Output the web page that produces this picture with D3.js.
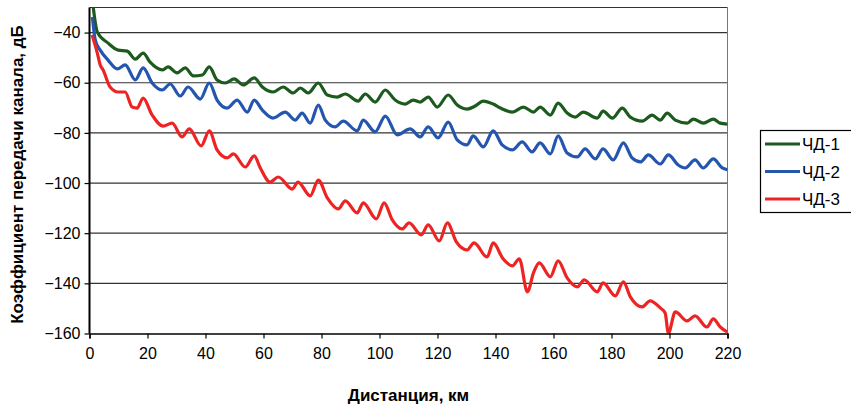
<!DOCTYPE html>
<html lang="ru">
<head>
<meta charset="UTF-8">
<title>Коэффициент передачи канала</title>
<script src="https://cdnjs.cloudflare.com/ajax/libs/d3/7.8.5/d3.min.js"></script>
<style>
  body { margin: 0; background: #fff; }
  svg { display: block; font-family: "Liberation Sans", Arial, sans-serif; }
</style>
</head>
<body>
<svg id="chart" width="851" height="409"></svg>
<script>
// Data: [distance km, transfer coefficient dB]
const seriesNames = ["ЧД-1", "ЧД-2", "ЧД-3"];
const seriesColors = ["#1d5a1d", "#2456b0", "#ee2424"];

const chd1 = [
  [1.2, -29], [2.7, -39.8], [6.4, -44.2], [9.9, -47.0], [13.0, -47.4], [15.8, -50.6], [18.5, -48.2],
  [20.9, -51.8], [25.1, -54.9], [27.1, -53.7], [30.2, -56.1], [33.0, -54.1], [35.8, -57.3],
  [38.9, -56.9], [41.3, -53.7], [44.0, -58.9], [46.8, -60.1], [49.9, -58.5], [53.0, -60.9],
  [56.8, -58.1], [59.6, -61.7], [63.3, -63.7], [66.8, -61.7], [70.2, -64.1], [72.7, -62.1],
  [75.4, -64.1], [78.9, -60.1], [82.0, -64.9], [85.4, -65.7], [88.2, -64.5], [92.6, -67.3],
  [95.1, -64.5], [98.5, -67.7], [102.0, -62.9], [105.4, -66.9], [108.9, -68.5], [111.6, -66.9],
  [114.0, -67.7], [116.8, -65.7], [119.9, -69.7], [123.7, -64.9], [126.8, -68.9], [130.2, -70.5],
  [133.0, -69.3], [135.8, -67.3], [139.2, -68.5], [141.7, -70.1], [145.8, -71.7], [149.6, -69.7],
  [153.1, -71.7], [155.4, -69.7], [158.9, -72.9], [161.6, -68.1], [164.7, -72.1], [167.5, -73.7],
  [170.2, -71.7], [175.1, -74.1], [177.1, -71.3], [180.3, -74.1], [183.7, -70.1], [186.5, -73.7],
  [190.6, -75.3], [194.0, -72.9], [196.8, -74.9], [199.2, -72.1], [202.0, -74.9], [206.1, -76.1],
  [208.2, -74.5], [211.7, -76.1], [215.1, -74.5], [217.5, -76.1], [219.9, -76.5]
];

const chd2 = [
  [1.0, -33.8], [2.0, -43.0], [3.7, -47.0], [6.4, -51.0], [9.6, -54.5], [12.3, -52.9], [15.8, -58.9],
  [18.5, -54.1], [21.6, -60.1], [25.1, -62.9], [27.8, -60.5], [31.3, -65.3], [34.0, -61.7],
  [38.2, -66.5], [41.3, -60.1], [44.0, -66.9], [47.5, -70.1], [50.9, -66.9], [54.4, -71.7],
  [56.8, -66.9], [59.6, -70.9], [63.3, -74.1], [67.5, -71.7], [70.9, -74.9], [73.3, -72.1],
  [76.1, -76.1], [78.9, -68.9], [81.3, -74.9], [84.7, -77.6], [87.5, -75.3], [92.3, -79.2],
  [94.4, -74.9], [98.5, -79.6], [102.0, -73.3], [106.1, -80.8], [110.6, -78.4], [114.0, -81.6],
  [116.8, -77.6], [120.2, -82.0], [123.7, -75.7], [126.8, -82.8], [130.2, -84.8], [132.3, -81.2],
  [135.8, -85.6], [139.2, -79.2], [142.3, -84.8], [145.8, -86.8], [149.2, -83.6], [152.6, -87.6],
  [155.4, -84.0], [158.9, -88.4], [161.6, -81.2], [164.7, -88.0], [168.2, -89.6], [170.9, -86.4],
  [174.4, -90.4], [177.1, -86.4], [180.6, -90.8], [184.1, -84.0], [187.1, -90.0], [190.0, -91.6],
  [192.7, -88.8], [196.8, -92.4], [199.6, -88.8], [203.0, -92.8], [205.4, -94.0], [208.8, -90.8],
  [211.6, -94.0], [215.1, -90.4], [218.2, -94.0], [219.9, -94.7]
];

const chd3 = [
  [0.9, -41.0], [2.7, -48.2], [3.7, -52.9], [4.7, -54.9], [7.1, -61.7], [9.9, -63.7], [12.3, -63.7],
  [14.7, -69.7], [16.4, -70.1], [18.5, -66.1], [21.6, -72.9], [25.4, -77.3], [28.5, -76.1],
  [31.9, -81.6], [34.4, -78.4], [38.5, -85.2], [41.3, -79.2], [44.0, -86.8], [47.5, -90.0],
  [49.6, -88.4], [53.7, -93.6], [56.8, -89.2], [58.9, -94.0], [62.3, -99.6], [65.1, -97.6],
  [69.9, -102.4], [71.9, -99.6], [76.1, -105.1], [78.9, -98.8], [82.0, -105.9], [85.8, -110.3],
  [88.2, -107.1], [92.3, -111.9], [94.4, -107.9], [98.9, -114.3], [101.6, -107.9], [104.4, -114.7],
  [107.8, -118.3], [110.2, -115.9], [114.4, -120.7], [116.8, -116.7], [120.6, -123.1],
  [123.4, -115.9], [126.5, -123.5], [130.2, -126.7], [132.6, -123.9], [137.1, -129.5],
  [139.2, -123.9], [142.6, -130.2], [145.8, -133.0], [148.2, -130.2], [151.0, -143.4],
  [153.1, -135.8], [155.1, -131.8], [158.9, -137.4], [161.6, -131.0], [164.7, -137.8],
  [168.2, -141.4], [170.6, -138.6], [175.1, -143.4], [177.1, -139.8], [181.3, -145.0],
  [184.1, -139.4], [186.5, -145.4], [190.6, -149.4], [193.3, -147.0], [196.8, -149.8],
  [198.5, -151.8], [199.6, -159.8], [202.0, -151.4], [206.1, -155.0], [208.8, -153.0],
  [212.9, -157.4], [215.1, -154.2], [217.5, -157.4], [219.9, -159.4]
];

const xTicks = [0, 20, 40, 60, 80, 100, 120, 140, 160, 180, 200, 220];
const yTicks = [-40, -60, -80, -100, -120, -140, -160];
const yGrid = [-30, -40, -60, -80, -100, -120, -140];

const allSeries = [chd1, chd2, chd3];

// Layout
const svg = d3.select("#chart");
const plot = { left: 89.5, right: 727.5, top: 7.5, bottom: 333.5 };

const x = d3.scaleLinear().domain([0, 220]).range([plot.left, plot.right]);
const y = d3.scaleLinear().domain([-160, -30]).range([plot.bottom, plot.top]);

// Grid lines
svg.append("g")
  .selectAll("line")
  .data(yGrid)
  .enter()
  .append("line")
  .attr("x1", plot.left)
  .attr("x2", plot.right)
  .attr("y1", d => y(d))
  .attr("y2", d => y(d))
  .attr("stroke", "#333")
  .attr("stroke-width", 1.2);

// right border
svg.append("line")
  .attr("x1", plot.right).attr("x2", plot.right)
  .attr("y1", plot.top).attr("y2", plot.bottom)
  .attr("stroke", "#777").attr("stroke-width", 1);

// Clip for the curves
svg.append("clipPath").attr("id", "plotClip")
  .append("rect")
  .attr("x", plot.left).attr("y", plot.top)
  .attr("width", plot.right - plot.left + 2)
  .attr("height", plot.bottom - plot.top);

const line = d3.line()
  .x(d => x(d[0]))
  .y(d => y(d[1]))
  .curve(d3.curveMonotoneX);

svg.append("g")
  .attr("clip-path", "url(#plotClip)")
  .selectAll("path")
  .data(allSeries)
  .enter()
  .append("path")
  .attr("d", line)
  .attr("fill", "none")
  .attr("stroke", (d, i) => seriesColors[i])
  .attr("stroke-width", 3.2)
  .attr("stroke-linejoin", "round");

// Axes
const xAxis = d3.axisBottom(x).tickValues(xTicks).tickSize(5).tickPadding(9);
const gx = svg.append("g")
  .attr("transform", `translate(0,${plot.bottom})`)
  .call(xAxis);
gx.select(".domain").attr("stroke", "#000").attr("stroke-width", 1.5);
gx.selectAll(".tick line").attr("stroke", "#000").attr("stroke-width", 1.2);
gx.selectAll(".tick text").attr("font-size", 16).attr("fill", "#000")
  .attr("font-family", "Liberation Sans, Arial, sans-serif");

const yAxis = d3.axisLeft(y).tickValues(yTicks).tickSize(5).tickPadding(4);
const gy = svg.append("g")
  .attr("transform", `translate(${plot.left},0)`)
  .call(yAxis);
gy.select(".domain").attr("d", `M0,${plot.top}V${plot.bottom}`)
  .attr("stroke", "#000").attr("stroke-width", 2);
gy.selectAll(".tick line").attr("stroke", "#000").attr("stroke-width", 1.2);
gy.selectAll(".tick text").attr("font-size", 16).attr("fill", "#000")
  .attr("font-family", "Liberation Sans, Arial, sans-serif");

// Axis titles
svg.append("text")
  .attr("x", (plot.left + plot.right) / 2)
  .attr("y", 401)
  .attr("text-anchor", "middle")
  .attr("font-size", 17)
  .attr("font-weight", "bold")
  .text("Дистанция, км");

svg.append("text")
  .attr("transform", `translate(23,${(plot.top + plot.bottom) / 2 + 4}) rotate(-90)`)
  .attr("text-anchor", "middle")
  .attr("font-size", 17)
  .attr("font-weight", "bold")
  .text("Коэффициент передачи канала, дБ");

// Legend
const legend = svg.append("g").attr("transform", "translate(760,130)");
legend.append("rect")
  .attr("x", 0.5).attr("y", 0.5)
  .attr("width", 110).attr("height", 82)
  .attr("fill", "#fff").attr("stroke", "#000").attr("stroke-width", 1.2);

const items = legend.selectAll("g.item")
  .data(seriesNames)
  .enter()
  .append("g")
  .attr("class", "item")
  .attr("transform", (d, i) => `translate(0,${14 + i * 27.5})`);

items.append("line")
  .attr("x1", 5).attr("x2", 40)
  .attr("stroke", (d, i) => seriesColors[i])
  .attr("stroke-width", 3);

items.append("text")
  .attr("x", 42)
  .attr("dy", "0.36em")
  .attr("font-size", 17)
  .text(d => d);
</script>
</body>
</html>
